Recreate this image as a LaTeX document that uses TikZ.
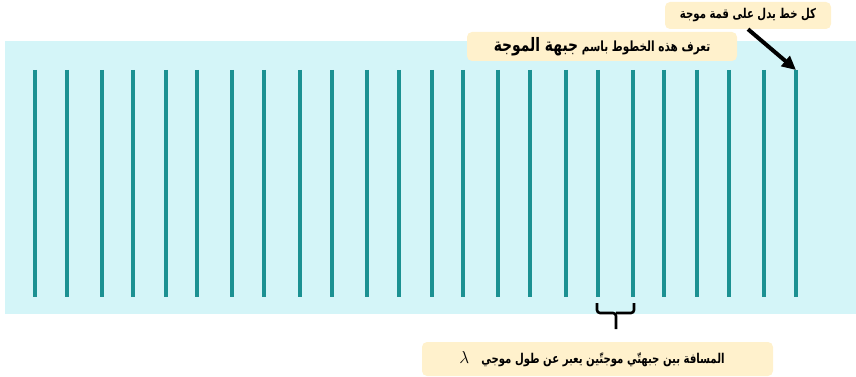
\documentclass[tikz,border=0pt]{standalone}
\usepackage{fontspec}
\usetikzlibrary{arrows.meta}
\TeXXeTstate=1
\newfontfamily\arabicfont[Script=Arabic,FakeStretch=0.75]{DejaVu Sans}
\definecolor{bgblue}{RGB}{212,245,248}
\definecolor{wavecol}{RGB}{27,145,146}
\definecolor{notecol}{RGB}{255,241,204}
\begin{document}
\begin{tikzpicture}[x=1pt,y=-1pt,
  wave/.style={draw=wavecol,line width=4pt},
  notebox/.style={fill=notecol,rounded corners=5pt,inner sep=0pt,align=center},
  bracestyle/.style={draw=black,line width=2.6pt,rounded corners=3pt}
  ]
\useasboundingbox (0,0) rectangle (856,377);
\fill[bgblue] (5,41) rectangle (856,314);
\foreach \xx [count=\i] in {35,67,102,133,166,197,232,264,300,332,367,399,432,463,498,530,566,598,633,664,697,729,764,796} {
  \coordinate (t\i) at (\xx,70);
  \coordinate (b\i) at (\xx,297);
  \draw[wave] (t\i) -- (b\i);
}
\node[notebox, minimum width=166pt, minimum height=27pt] (crest) at (748,15.5)
  {\arabicfont\bfseries\fontsize{13.5}{15}\selectfont\beginR كل خط يدل على قمة موجة\endR};
\node[notebox, minimum width=270pt, minimum height=29pt] (front) at (602,46.5)
  {\arabicfont\bfseries\fontsize{14}{16}\selectfont\beginR تعرف هذه الخطوط باسم {\fontsize{18.5}{20}\selectfont جبهة الموجة}\endR};
\node[notebox, minimum width=351pt, minimum height=34pt, inner xsep=0pt] (dist) at (597.5,359)
  {{\fontsize{19}{20}\selectfont$\lambda$}\hspace{12pt}{\arabicfont\bfseries\fontsize{13.5}{16}\selectfont\beginR المسافة بين جبهتّي موجتّين يعبر عن طول موجي\endR}\hspace{11pt}};
\draw[line width=4pt,-{Triangle[length=14pt,width=13pt]}] (crest.south) -- (t24);
\coordinate (bl) at (597,303);
\coordinate (br) at (634,303);
\coordinate (bm) at (616,313);
\coordinate (btip) at (616,329);
\draw[bracestyle] (bl) -- (597,313) -- (bm) -- (btip);
\draw[bracestyle] (br) -- (634,313) -- (bm);
\end{tikzpicture}
\end{document}
